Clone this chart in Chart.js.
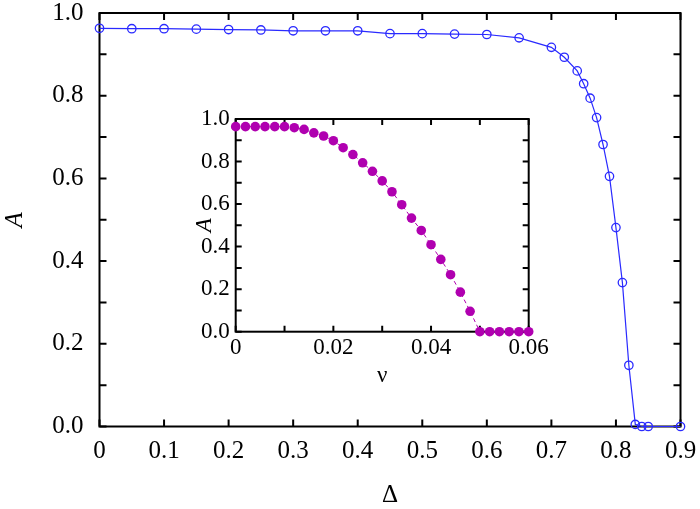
<!DOCTYPE html>
<html>
<head>
<meta charset="utf-8">
<script src="https://cdn.jsdelivr.net/npm/chart.js@4"></script>
<style>
  html, body { margin: 0; padding: 0; background: #fff; }
  #wrap { position: relative; width: 700px; height: 509px; }
  #main { position: absolute; left: 0; top: 0; }
  #inset { position: absolute; left: 180px; top: 100px; }
</style>
</head>
<body>
<div id="wrap">
  <canvas id="main" width="700" height="509"></canvas>
  <canvas id="inset" width="370" height="300"></canvas>
</div>
<script>
// main panel: A vs Delta
const mainDelta = [0, 0.05, 0.1, 0.15, 0.2, 0.25, 0.3, 0.35, 0.4, 0.45, 0.5, 0.55, 0.6, 0.65,
  0.7, 0.72, 0.74, 0.75, 0.76, 0.77, 0.78, 0.79, 0.8, 0.81, 0.82, 0.83, 0.84, 0.85, 0.9];
const mainA = [0.963, 0.962, 0.962, 0.961, 0.960, 0.959, 0.957, 0.957, 0.957, 0.950, 0.950, 0.949, 0.948, 0.940,
  0.917, 0.893, 0.860, 0.829, 0.794, 0.747, 0.682, 0.605, 0.481, 0.348, 0.148, 0.005, 0, 0, 0];

// inset: A vs nu
const insetNu = [0, 0.002, 0.004, 0.006, 0.008, 0.01, 0.012, 0.014, 0.016, 0.018, 0.02, 0.022, 0.024,
  0.026, 0.028, 0.03, 0.032, 0.034, 0.036, 0.038, 0.04, 0.042, 0.044, 0.046, 0.048, 0.05,
  0.052, 0.054, 0.056, 0.058, 0.06];
const insetA = [0.964, 0.964, 0.964, 0.964, 0.964, 0.964, 0.959, 0.951, 0.935, 0.920, 0.898, 0.865, 0.833,
  0.794, 0.754, 0.709, 0.658, 0.597, 0.534, 0.476, 0.409, 0.340, 0.268, 0.186, 0.096, 0,
  0, 0, 0, 0, 0];

// ticks
const mainXTicks = [0, 0.1, 0.2, 0.3, 0.4, 0.5, 0.6, 0.7, 0.8, 0.9];
const mainXLabels = ['0', '0.1', '0.2', '0.3', '0.4', '0.5', '0.6', '0.7', '0.8', '0.9'];
const yTicks = [0, 0.1, 0.2, 0.3, 0.4, 0.5, 0.6, 0.7, 0.8, 0.9, 1.0];
const yLabels = ['0.0', '', '0.2', '', '0.4', '', '0.6', '', '0.8', '', '1.0'];
const insetXTicks = [0, 0.01, 0.02, 0.03, 0.04, 0.05, 0.06];
const insetXLabels = ['0', '', '0.02', '', '0.04', '', '0.06'];

const SERIF = "'Liberation Serif', 'Times New Roman', serif";

// border box + inward ticks on all four sides
const framePlugin = {
  id: 'frame',
  beforeDatasetsDraw(chart, args, opts) {
    const { ctx, chartArea: a, scales: { x, y } } = chart;
    const len = opts.tickLen;
    ctx.save();
    ctx.strokeStyle = '#000';
    ctx.lineWidth = 2;
    ctx.beginPath();
    x.ticks.forEach(t => {
      const px = x.getPixelForValue(t.value);
      ctx.moveTo(px, a.bottom); ctx.lineTo(px, a.bottom - len);
      ctx.moveTo(px, a.top); ctx.lineTo(px, a.top + len);
    });
    y.ticks.forEach(t => {
      const py = y.getPixelForValue(t.value);
      ctx.moveTo(a.left, py); ctx.lineTo(a.left + len, py);
      ctx.moveTo(a.right, py); ctx.lineTo(a.right - len, py);
    });
    ctx.stroke();
    ctx.strokeRect(a.left, a.top, a.right - a.left, a.bottom - a.top);
    ctx.restore();
  }
};

function makeChart(id, cfg) {
  return new Chart(document.getElementById(id), {
    type: 'scatter',
    data: {
      datasets: [{
        data: cfg.xs.map((v, i) => ({ x: v, y: cfg.ys[i] })),
        showLine: true,
        borderColor: cfg.color,
        borderWidth: cfg.lineWidth,
        borderDash: cfg.dash,
        pointRadius: cfg.radius,
        pointBorderWidth: cfg.pointBorder,
        pointBorderColor: cfg.color,
        pointBackgroundColor: cfg.fill,
        clip: false
      }]
    },
    options: {
      responsive: false,
      devicePixelRatio: 1,
      animation: false,
      layout: { padding: cfg.padding },
      plugins: { legend: { display: false }, tooltip: { enabled: false }, frame: { tickLen: cfg.tickLen } },
      scales: {
        x: {
          type: 'linear', min: cfg.xMin, max: cfg.xMax,
          grid: { display: false, drawTicks: false },
          border: { display: false },
          afterBuildTicks: s => { s.ticks = cfg.xTicks.map(v => ({ value: v })); },
          afterFit: s => { s.height = cfg.xHeight; s.paddingLeft = 0; s.paddingRight = 0; },
          ticks: {
            autoSkip: false, maxRotation: 0, padding: cfg.xTickPad, color: '#000',
            font: { family: SERIF, size: cfg.fontSize, lineHeight: 1 },
            callback: (v, i) => cfg.xLabels[i]
          },
          title: {
            display: true, text: cfg.xTitle, color: '#000',
            font: { family: SERIF, size: cfg.fontSize, lineHeight: 1 },
            padding: { top: 0, bottom: cfg.xTitlePad }
          }
        },
        y: {
          type: 'linear', min: 0, max: 1,
          grid: { display: false, drawTicks: false },
          border: { display: false },
          afterBuildTicks: s => { s.ticks = yTicks.map(v => ({ value: v })); },
          afterFit: s => { s.width = cfg.yWidth; s.paddingTop = 0; s.paddingBottom = 0; },
          ticks: {
            autoSkip: false, padding: cfg.yTickPad, color: '#000',
            font: { family: SERIF, size: cfg.fontSize, lineHeight: 1 },
            callback: (v, i) => yLabels[i]
          },
          title: {
            display: true, text: 'A', color: '#000',
            font: { family: SERIF, size: cfg.fontSize, style: 'italic', lineHeight: 1 },
            padding: { top: cfg.yTitlePad, bottom: 0 }
          }
        }
      }
    },
    plugins: [framePlugin]
  });
}

makeChart('main', {
  xs: mainDelta, ys: mainA,
  color: '#2a2aff', fill: 'rgba(0,0,0,0)', lineWidth: 1.2, dash: [], radius: 4.2, pointBorder: 1.3,
  padding: { left: 0, top: 13, right: 19.5, bottom: 0 },
  xMin: 0, xMax: 0.9, xTicks: mainXTicks, xLabels: mainXLabels, xTitle: 'Δ',
  xHeight: 82.5, yWidth: 99.5, xTickPad: 12, yTickPad: 16, xTitlePad: 1, yTitlePad: 2.5,
  fontSize: 25, tickLen: 7
});

makeChart('inset', {
  xs: insetNu, ys: insetA,
  color: '#b000b0', fill: '#b000b0', lineWidth: 1, dash: [4, 3], radius: 4.8, pointBorder: 0,
  padding: { left: 0, top: 19, right: 21.3, bottom: 0 },
  xMin: 0, xMax: 0.06, xTicks: insetXTicks, xLabels: insetXLabels, xTitle: 'ν',
  xHeight: 68.3, yWidth: 55.7, xTickPad: 5, yTickPad: 6, xTitlePad: 12.5, yTitlePad: 13.5,
  fontSize: 23, tickLen: 6
});
</script>
</body>
</html>
